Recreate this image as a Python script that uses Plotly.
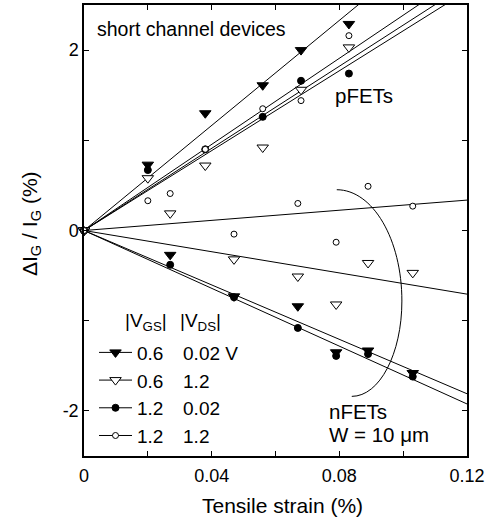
import numpy as np
import plotly.graph_objects as go

# ---------------- data ----------------
strain_p = [0, 0.020, 0.038, 0.056, 0.068, 0.083]          # pFET strain (%)
strain_n = [0, 0.027, 0.047, 0.067, 0.079, 0.089, 0.103]   # nFET strain (%)

# pFETs, dIG/IG (%)
p_06_002 = [0, 0.73, 1.30, 1.61, 2.00, 2.29]
p_06_12 = [0, 0.58, 0.72, 0.92, 1.56, 2.03]
p_12_002 = [0, 0.67, 0.90, 1.26, 1.66, 1.74]
p_12_12 = [0, 0.33, 0.90, 1.35, 1.44, 2.16]

# nFETs, dIG/IG (%)
n_06_002 = [0, -0.27, -0.73, -0.84, -1.35, -1.33, -1.58]
n_06_12 = [0, 0.19, -0.32, -0.51, -0.82, -0.36, -0.47]
n_12_002 = [0, -0.38, -0.74, -1.08, -1.39, -1.37, -1.62]
n_12_12 = [0, 0.41, -0.04, 0.30, -0.13, 0.49, 0.27]

legend_vgs = ["0.6", "0.6", "1.2", "1.2"]
legend_vds = ["0.02 V", "1.2", "0.02", "1.2"]

x_tickvals = [0, 0.04, 0.08, 0.12]
x_ticktext = ["0", "0.04", "0.08", "0.12"]
x_minor = [0.02, 0.06, 0.10]
y_tickvals = [-2, 0, 2]
y_ticktext = ["-2", "0", "2"]
y_minor = [-1, 1]

# ---------------- styles ----------------
FONT = "Arial, Liberation Sans, sans-serif"
styles = [
    dict(symbol="triangle-down", size=10, color="black", line=dict(color="black", width=1)),
    dict(symbol="triangle-down", size=10, color="white", line=dict(color="black", width=1)),
    dict(symbol="circle", size=7, color="black", line=dict(color="black", width=1)),
    dict(symbol="circle", size=6, color="white", line=dict(color="black", width=1)),
]

p_series = [p_06_002, p_06_12, p_12_002, p_12_12]
n_series = [n_06_002, n_06_12, n_12_002, n_12_12]

XMAX = 0.12
fig = go.Figure()


def fit_slope(x, y):
    x = np.asarray(x, float)
    y = np.asarray(y, float)
    return float((x * y).sum() / (x * x).sum())


# fit lines through the origin (drawn first)
for xs, group in ((strain_p, p_series), (strain_n, n_series)):
    for ys in group:
        k = fit_slope(xs, ys)
        fig.add_trace(go.Scatter(x=[0, XMAX], y=[0, k * XMAX], mode="lines",
                                 line=dict(color="black", width=1),
                                 showlegend=False, hoverinfo="skip"))

# markers
for i in range(4):
    for xs, group in ((strain_p, p_series), (strain_n, n_series)):
        fig.add_trace(go.Scatter(x=xs, y=group[i], mode="markers",
                                 marker=styles[i], showlegend=False, cliponaxis=False))

# legend entries
sp = "\u00a0\u00a0\u00a0\u2009"
for i in range(4):
    fig.add_trace(go.Scatter(x=[None], y=[None], mode="lines+markers",
                             marker=styles[i], line=dict(color="black", width=1),
                             name=legend_vgs[i] + sp + legend_vds[i]))

# ---------------- layout ----------------
L, R, T, B = 84, 28, 3, 67
W, H = 495, 523
PW, PH = W - L - R, H - T - B


def px(xp):
    return (xp - L) / PW


def py(yp):
    return (H - B - yp) / PH


axis_common = dict(showline=True, linecolor="black", linewidth=1.5, mirror="ticks",
                   ticks="inside", ticklen=5, tickwidth=1, tickcolor="black",
                   showgrid=False, zeroline=False, tickmode="array",
                   tickfont=dict(family=FONT, size=18, color="black"))
minor_common = dict(tickmode="array", ticks="inside", ticklen=5, tickcolor="black",
                    tickwidth=1, showgrid=False)

fig.update_layout(
    width=W, height=H,
    margin=dict(l=L, r=R, t=T, b=B, pad=0),
    plot_bgcolor="white", paper_bgcolor="white",
    font=dict(family=FONT, color="black"),
    xaxis=dict(range=[0, XMAX], tickvals=x_tickvals, ticktext=x_ticktext,
               minor=dict(tickvals=x_minor, **minor_common), ticklabelstandoff=3,
               **axis_common),
    yaxis=dict(range=[-2.5, 2.5], tickvals=y_tickvals, ticktext=y_ticktext,
               minor=dict(tickvals=y_minor, **minor_common),
               **axis_common),
    showlegend=True,
    legend=dict(x=px(94), y=py(333), xanchor="left", yanchor="top",
                bgcolor="rgba(0,0,0,0)", font=dict(family=FONT, size=19, color="black"),
                itemsizing="trace", itemwidth=33, tracegroupgap=0),
    shapes=[dict(type="path", xref="x", yref="y",
                 path="M 0.0792,0.452 C 0.0905,0.452 0.0996,-0.099 0.0996,-0.782 "
                      "C 0.0996,-1.366 0.0926,-1.839 0.0839,-1.839",
                 line=dict(color="black", width=1))],
)

ann = [
    dict(text="short channel devices", x=px(95), y=py(27), xanchor="left", yanchor="middle", size=19.5),
    dict(text="pFETs", x=px(333), y=py(94), xanchor="left", yanchor="middle", size=20.5),
    dict(text="nFETs", x=px(327), y=py(411), xanchor="left", yanchor="middle", size=20.5),
    dict(text="W = 10 \u03bcm", x=px(327), y=py(434), xanchor="left", yanchor="middle", size=20.5),
    dict(text="|V<sub>GS</sub>|", x=px(123), y=py(321), xanchor="left", yanchor="middle", size=19),
    dict(text="|V<sub>DS</sub>|", x=px(178), y=py(321), xanchor="left", yanchor="middle", size=19),
    dict(text="Tensile strain (%)", x=px(282), y=py(506), xanchor="center", yanchor="middle", size=21),
]
for a in ann:
    fig.add_annotation(text=a["text"], x=a["x"], y=a["y"], xref="paper", yref="paper",
                       xanchor=a["xanchor"], yanchor=a["yanchor"], showarrow=False,
                       font=dict(family=FONT, size=a["size"], color="black"))

fig.add_annotation(text="\u0394I<sub>G</sub> / I<sub>G</sub> (%)", x=px(31), y=py(223),
                   xref="paper", yref="paper", xanchor="center", yanchor="middle",
                   textangle=-90, showarrow=False,
                   font=dict(family=FONT, size=21, color="black"))

fig.write_html("out.html", config={"displayModeBar": False},
               post_script="document.body.style.margin='0';document.body.style.padding='0';")
